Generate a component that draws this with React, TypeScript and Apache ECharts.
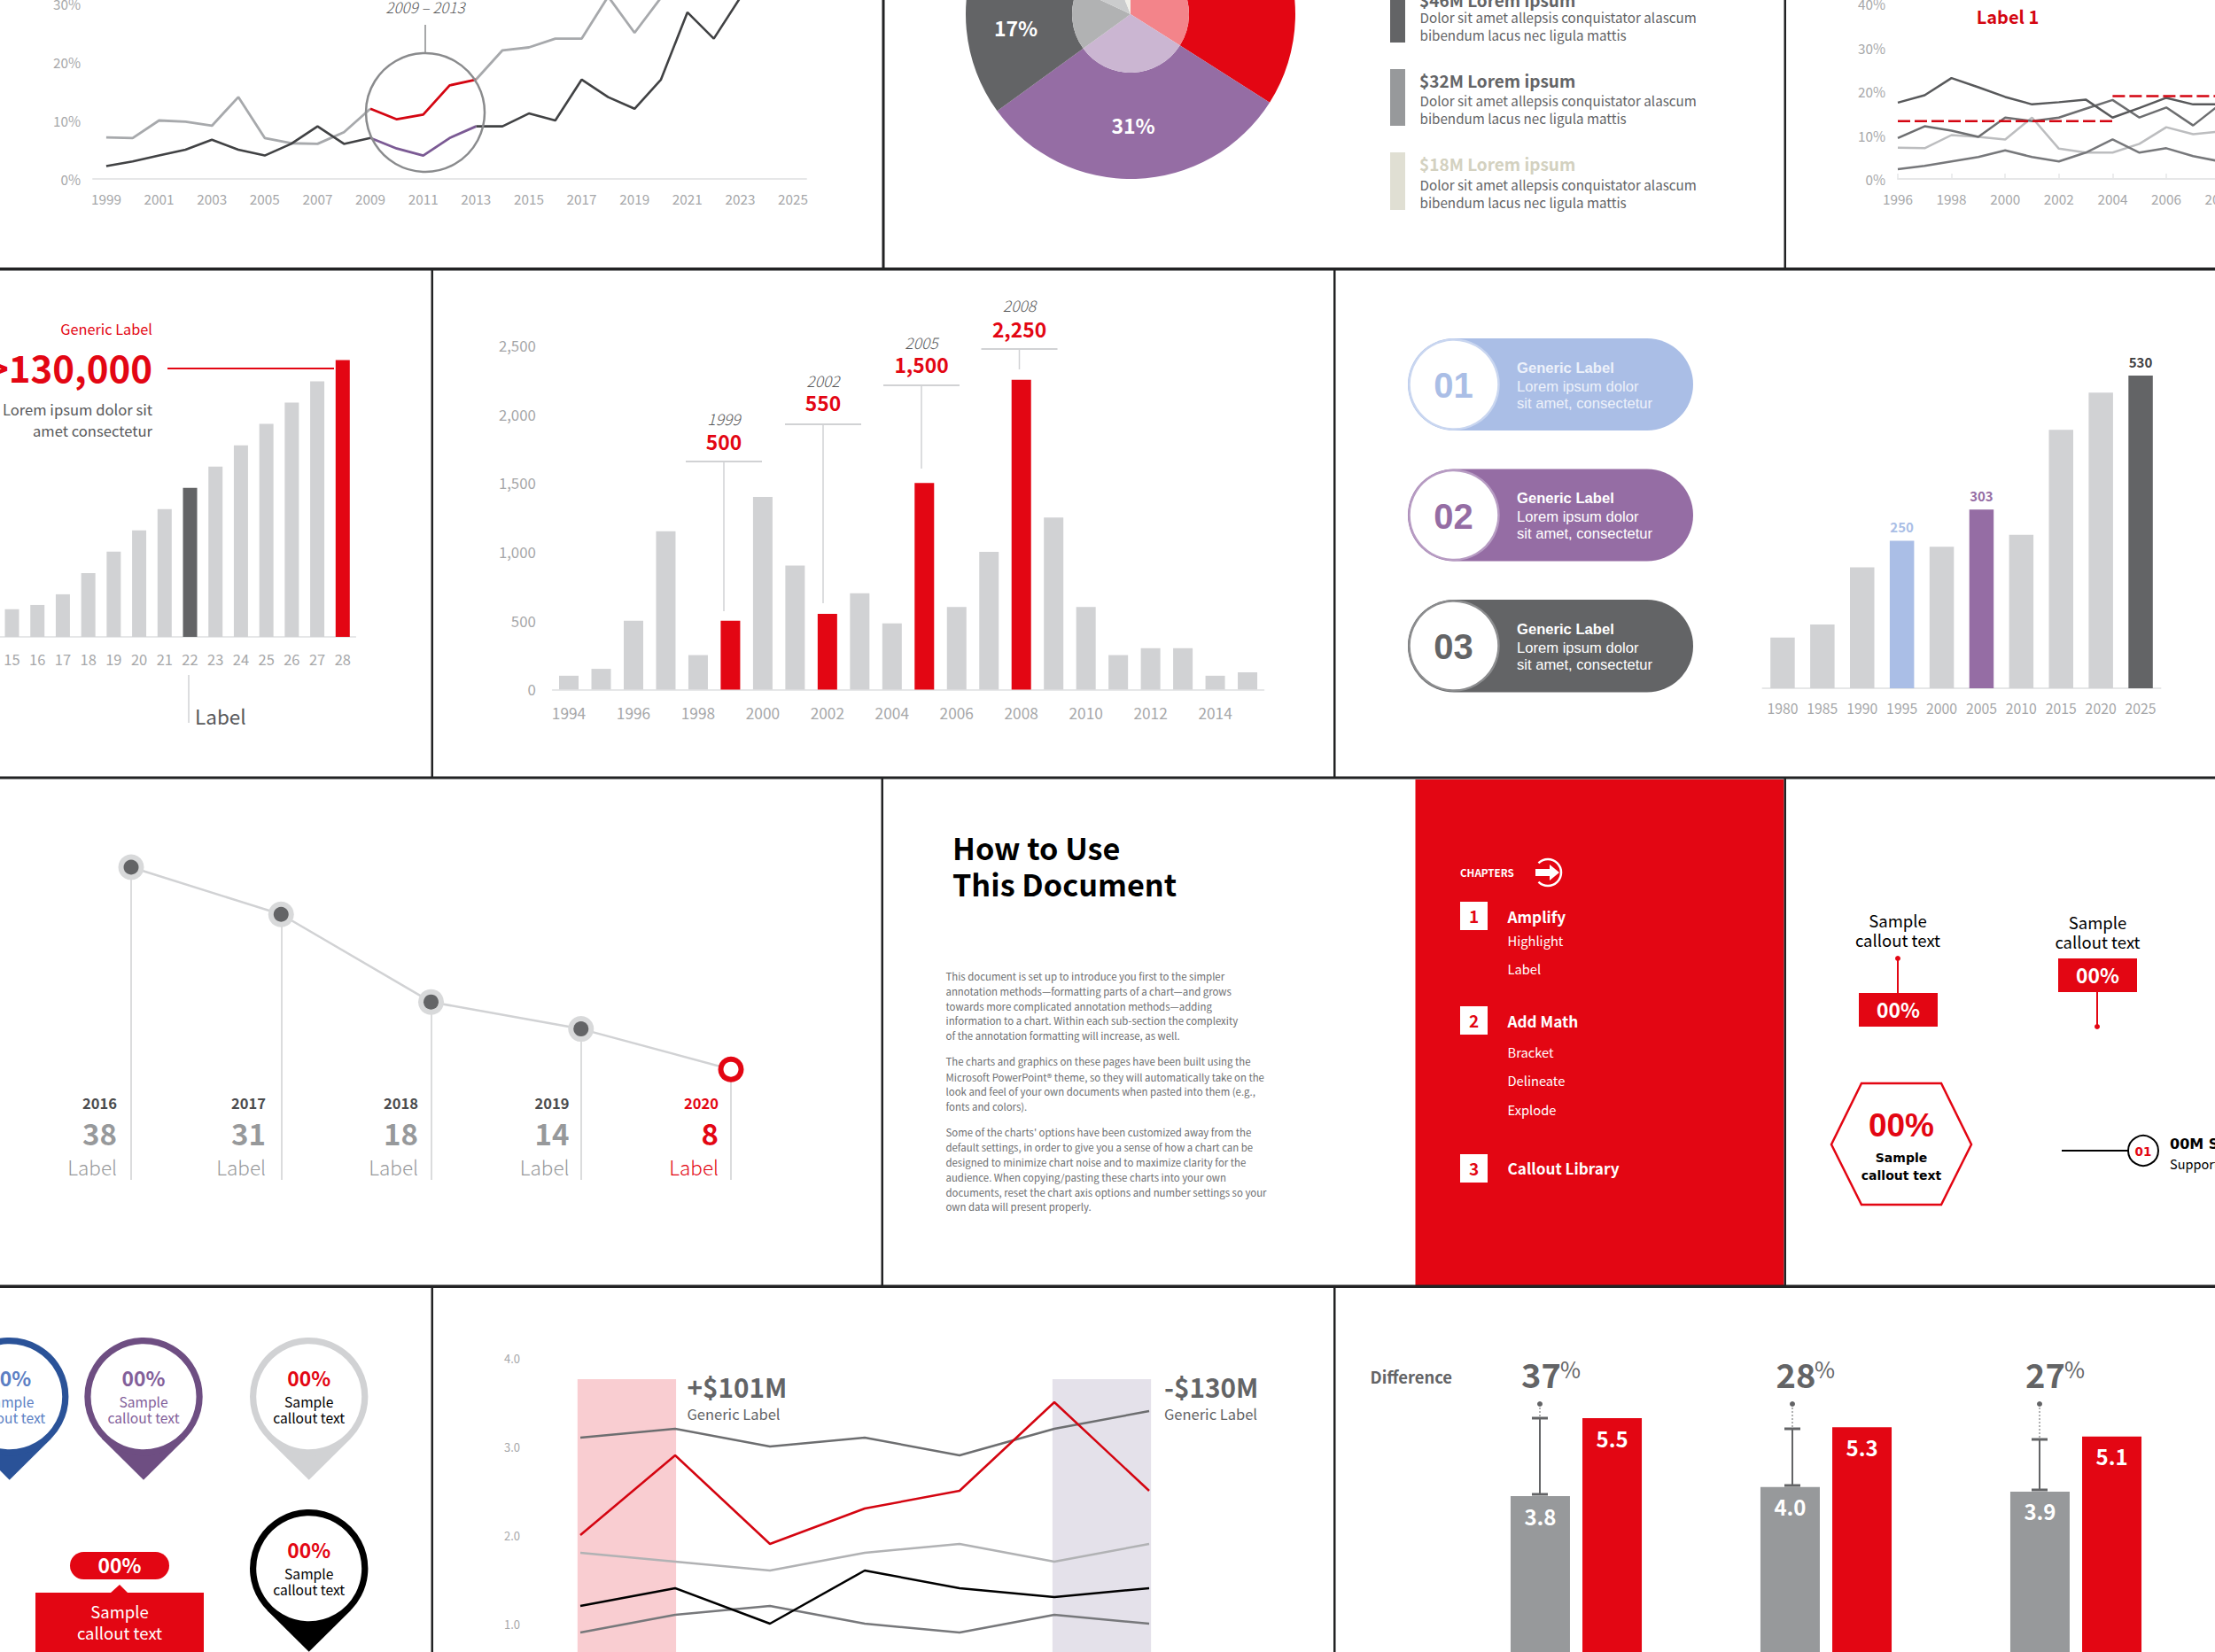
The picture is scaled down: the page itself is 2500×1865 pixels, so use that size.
import React, { useEffect, useRef } from "react";
import * as echarts from "echarts";

// ---------- palette / fonts
const RED = "#E30613";
const DARK = "#636466";
const MID = "#97999B";
const LIGHT = "#D1D2D4";
const PURPLE = "#956DA4";
const BLUE = "#AABEE6";
const BEIGE = "#E0DFD3";
const AXIS = "#E6E7E8";
const TICK = "#A6A7A9";
const SANS = "'Noto Sans CJK SC','Noto Sans',sans-serif";
const ARIAL = "'Liberation Sans',Arial,sans-serif";
const WIDE = "'DejaVu Sans',sans-serif";

// ---------- chart A (top-left lines)
const aYears = ["1999","2000","2001","2002","2003","2004","2005","2006","2007","2008","2009","2010","2011","2012","2013","2014","2015","2016","2017","2018","2019","2020","2021","2022","2023","2024","2025"];
const aGray = [7.1,7,10,9.8,9.1,14,7,6.1,6,8,12,null,null,null,17,22,22.5,24,24,31.2,25,31,35];
const aRed = [null,null,null,null,null,null,null,null,null,null,12,10.2,11,16,17];
const aDark = [2.2,3,4,5,6.7,5,4,6,9,6,7,null,null,null,9,9,11.2,10,17,14,12,17,28.5,24,31,36];
const aPurple = [null,null,null,null,null,null,null,null,null,null,7,5.2,4,7,9];

// ---------- pie
const pieNames = ["Red","Purple","Dark","Gray","Beige"];
const pieValues = [34,31,17,12,6];
const pieColors = [RED,PURPLE,DARK,MID,BEIGE];
const pieInner = ["#F3848A","#CBB6D2","#B1B2B3","#CBCCCD","#F0EFE9"];
const legendTitles = ["$46M Lorem ipsum","$32M Lorem ipsum","$18M Lorem ipsum"];
const legendBody1 = "Dolor sit amet allepsis conquistator alascum";
const legendBody2 = "bibendum lacus nec ligula mattis";

// ---------- chart C (top-right lines)
const cYears = ["1996","1997","1998","1999","2000","2001","2002","2003","2004","2005","2006","2007","2008"];
const cDark = [17.4,19.1,23,20.9,18.7,17,17.5,18.1,14,16.2,18.5,17,17];
const cMid = [9.3,12,11,9.6,14,13.2,14,16,18,14,16.3,12.2,17];
const cLight = [7.1,7,10,9.6,9,14,6.9,6,6,8,11.8,10.2,10.8];
const cLow = [2.2,3,4,5,6.5,5,4,6,9,6,7,5.2,4];
const cAvg1 = [13.2,13.2,13.2,13.2,13.2,13.2,13.2,13.2,13.2,null,null,null,null];
const cAvg2 = [null,null,null,null,null,null,null,null,18.9,18.9,18.9,18.9,18.9];

// ---------- chart D (rising bars)
const dCats = ["15","16","17","18","19","20","21","22","23","24","25","26","27","28"];
const dValues = [13000,15000,20000,30000,40000,50000,60000,70000,80000,90000,100000,110000,120000,130000];

// ---------- chart E (centre bars)
const eYears = ["1994","1995","1996","1997","1998","1999","2000","2001","2002","2003","2004","2005","2006","2007","2008","2009","2010","2011","2012","2013","2014","2015"];
const eValues = [100,150,500,1150,250,500,1400,900,550,700,480,1500,600,1000,2250,1250,600,250,300,300,100,125];
const eHighlights = ["1999","2002","2005","2008"];
const eNotes = [
  { year: "1999", value: "500" },
  { year: "2002", value: "550" },
  { year: "2005", value: "1,500" },
  { year: "2008", value: "2,250" },
];

// ---------- chart F (right bars)
const fYears = ["1980","1985","1990","1995","2000","2005","2010","2015","2020","2025"];
const fValues = [86,108,205,250,240,303,260,438,501,530];

// ---------- chart G (pins)
const gYears = ["2016","2017","2018","2019","2020"];
const gValues = [38,31,18,14,8];

// ---------- chart H (five lines)
const hGray = [3.1,3.2,3.0,3.1,2.9,3.2,3.4];
const hRed = [2.0,2.9,1.9,2.3,2.5,3.5,2.5];
const hLight = [1.8,1.7,1.6,1.8,1.9,1.7,1.9];
const hBlack = [1.2,1.4,1.0,1.6,1.4,1.3,1.4];
const hLow = [0.9,1.1,1.2,1.0,0.9,1.1,1.0];

// ---------- chart I (paired bars)
const iCats = ["A","B","C"];
const iGray = [3.8,4.0,3.9];
const iRed = [5.5,5.3,5.1];
const iDiff = ["37","28","27"];

// ---------- copy
const docPara = [
  ["This document is set up to introduce you first to the simpler","annotation methods—formatting parts of a chart—and grows","towards more complicated annotation methods—adding","information to a chart. Within each sub-section the complexity","of the annotation formatting will increase, as well."],
  ["The charts and graphics on these pages have been built using the","Microsoft PowerPoint® theme, so they will automatically take on the","look and feel of your own documents when pasted into them (e.g.,","fonts and colors)."],
  ["Some of the charts' options have been customized away from the","default settings, in order to give you a sense of how a chart can be","designed to minimize chart noise and to maximize clarity for the","audience. When copying/pasting these charts into your own","documents, reset the chart axis options and number settings so your","own data will present properly."],
];

// ---------- graphic helpers
type O = { align?: string; weight?: number | string; font?: string; italic?: boolean };
const T = (text: string, x: number, y: number, size: number, fill: string, o: O = {}) => ({
  type: "text", z: 100, silent: true,
  style: {
    text, x, y: o.font ? y : y - size * 0.05, fill, fontSize: size, fontFamily: o.font || SANS, fontWeight: o.weight || 400,
    fontStyle: o.italic ? "italic" : "normal",
    align: o.align || "left", verticalAlign: "middle",
    textAlign: o.align || "left", textVerticalAlign: "middle",
  },
});
const L = (x1: number, y1: number, x2: number, y2: number, stroke: string, lineWidth = 2, lineDash?: number[]) => ({
  type: "line", z: 100, silent: true, shape: { x1, y1, x2, y2 }, style: { stroke, lineWidth, lineDash },
});
const R = (x: number, y: number, width: number, height: number, fill: string, r = 0, z = 90) => ({
  type: "rect", z, silent: true, shape: { x, y, width, height, r }, style: { fill },
});
const C = (cx: number, cy: number, r: number, fill: string, stroke?: string, lineWidth = 0) => ({
  type: "circle", z: 100, silent: true, shape: { cx, cy, r }, style: { fill, stroke, lineWidth },
});
const P = (points: number[][], fill: string, stroke?: string, lineWidth = 0) => ({
  type: "polygon", z: 100, silent: true, shape: { points }, style: { fill, stroke, lineWidth },
});

function buildGraphics() {
  const g: any[] = [];
  const ink = "#222324";
  // dividers
  g.push(R(0, 302, 2500, 3.5, ink), R(0, 876.5, 2500, 3, ink), R(0, 1450.5, 2500, 3.5, ink));
  g.push(R(995.5, 0, 3, 303, ink), R(2013.5, 0, 2.5, 303, ink));
  g.push(R(486.5, 303, 2.5, 575, ink), R(1505, 303, 2.5, 575, ink));
  g.push(R(994.5, 878, 2.5, 574, ink), R(2013.5, 878, 2.5, 574, ink));
  g.push(R(486.5, 1452, 2.5, 413, ink), R(1505, 1452, 2.5, 413, ink));

  // chart A annotation
  g.push({ type: "circle", z: 100, silent: true, shape: { cx: 480, cy: 127, r: 67 }, style: { fill: "none", stroke: "#8A8B8D", lineWidth: 2.5 } });
  g.push(L(480, 28, 480, 60, "#8A8B8D", 1.5));
  g.push(T("2009 – 2013", 480, 8, 17, "#58595B", { align: "center", italic: true, weight: 300 }));

  // pie legend
  [[-16, 48, DARK, 0, 19.5, 39.5], [78, 142, MID, 91, 113.5, 133.5], [172, 237, BEIGE, 185, 208.5, 228.5]].forEach((r: any, i) => {
    g.push(R(1569, r[0], 17, r[1] - r[0], r[2]));
    g.push(T(legendTitles[i], 1602, r[3], 19, i === 2 ? "#D3D1C0" : DARK, { weight: 700 }));
    g.push(T(legendBody1, 1602.5, r[4], 15.2, DARK));
    g.push(T(legendBody2, 1602.5, r[5], 15.2, DARK));
  });

  // chart C
  g.push(T("Label 1", 2266, 19, 20, "#D40511", { align: "center", weight: 700 }));

  // chart D
  g.push(T("Generic Label", 172, 372, 16.3, RED, { align: "right" }));
  g.push(T(">130,000", 172, 416, 42, RED, { align: "right", weight: 700 }));
  g.push(L(189, 416, 377, 416, RED, 2));
  g.push(T("Lorem ipsum dolor sit", 172, 463, 16.6, "#58595B", { align: "right" }));
  g.push(T("amet consectetur", 172, 487, 16.6, "#58595B", { align: "right" }));
  g.push(L(213, 762, 213, 816, LIGHT, 1.5));
  g.push(T("Label", 220, 809, 22.5, "#58595B"));

  // chart E notes
  [[817, 473, 500, 521, 690], [929, 430, 456, 479, 681], [1040, 387, 413, 435, 529], [1150.5, 345, 373, 394, 417]].forEach((n, i) => {
    g.push(T(eNotes[i].year, n[0], n[1], 17.5, "#58595B", { align: "center", italic: true, weight: 300 }));
    g.push(T(eNotes[i].value, n[0], n[2], 22.8, RED, { align: "center", weight: 700 }));
    g.push(L(n[0] - 43, n[3], n[0] + 43, n[3], LIGHT, 2));
    g.push(L(n[0], n[3], n[0], n[4], LIGHT, 1.5));
  });

  // pills
  [[BLUE, "#C9D6F0", "#EDF1FA"], [PURPLE, "#B79CC3", "#FFFFFF"], [DARK, "#8C8D8F", "#FFFFFF"]].forEach((c, i) => {
    const top = 382 + i * 147.5;
    g.push(R(1589, top, 322, 104 + (i === 2 ? 0.5 : 0), c[0], 52));
    g.push(C(1641, top + 52, 50.5, "#FFFFFF", c[1], 2.5));
    g.push(T("0" + (i + 1), 1640.5, top + 53, 40, c[0], { align: "center", weight: 700, font: ARIAL }));
    g.push(T("Generic Label", 1712, top + 33, 16.6, c[2], { weight: 700, font: ARIAL }));
    g.push(T("Lorem ipsum dolor", 1712, top + 54, 16.6, c[2], { font: ARIAL }));
    g.push(T("sit amet, consectetur", 1712, top + 73, 16.6, c[2], { font: ARIAL }));
  });

  // chart G captions
  [132, 300, 472, 642.5, 811].forEach((x, i) => {
    const last = i === gYears.length - 1;
    g.push(T(gYears[i], x, 1246, 16.5, last ? RED : "#4A4B4D", { align: "right", weight: 700 }));
    g.push(T(String(gValues[i]), x, 1281, 33, last ? RED : MID, { align: "right", weight: 700 }));
    g.push(T("Label", x, 1318, 22.5, last ? RED : MID, { align: "right", weight: 300 }));
  });

  // How to use
  g.push(T("How to Use", 1075, 958, 34.2, "#000000", { weight: 700 }));
  g.push(T("This Document", 1075, 999, 34.2, "#000000", { weight: 700 }));
  const ys = [[1102.5, 1120, 1137, 1153, 1169.5], [1199, 1216.5, 1233, 1250], [1278.5, 1295.5, 1312.5, 1329.5, 1346.5, 1363]];
  docPara.forEach((p, a) => p.forEach((t, b) => g.push(T(t, 1067.5, ys[a][b], 11.4, "#6D6E70"))));

  // red panel
  g.push(R(1597.5, 880, 416, 573, RED, 0, 80));
  g.push(T("CHAPTERS", 1648, 986, 11.6, "#FFFFFF", { weight: 700 }));
  g.push({ type: "arc", z: 100, silent: true, shape: { cx: 1747, cy: 985, r: 15, startAngle: -2.35, endAngle: 2.35, clockwise: true }, style: { fill: "none", stroke: "#FFFFFF", lineWidth: 2.5 } });
  g.push(P([[1733, 981], [1749, 981], [1749, 976], [1760, 985], [1749, 994], [1749, 989], [1733, 989]], "#FFFFFF"));
  [[1018, "1"], [1136, "2"], [1303, "3"]].forEach((b: any) => {
    g.push(R(1648, b[0], 31, 32, "#FFFFFF", 0, 95));
    g.push(T(b[1], 1663.5, b[0] + 16, 19, RED, { align: "center", weight: 700 }));
  });
  g.push(T("Amplify", 1701.5, 1035, 17.2, "#FFFFFF", { weight: 700 }));
  g.push(T("Highlight", 1701.5, 1062, 14.7, "#FFFFFF"));
  g.push(T("Label", 1701.5, 1094.5, 14.7, "#FFFFFF"));
  g.push(T("Add Math", 1701.5, 1153, 17.2, "#FFFFFF", { weight: 700 }));
  g.push(T("Bracket", 1701.5, 1188, 14.7, "#FFFFFF"));
  g.push(T("Delineate", 1701.5, 1220, 14.7, "#FFFFFF"));
  g.push(T("Explode", 1701.5, 1253.5, 14.7, "#FFFFFF"));
  g.push(T("Callout Library", 1701.5, 1319, 17.2, "#FFFFFF", { weight: 700 }));

  // callouts
  g.push(T("Sample", 2142, 1040, 18.5, "#000", { align: "center" }));
  g.push(T("callout text", 2142, 1062, 18.5, "#000", { align: "center" }));
  g.push(C(2142, 1082, 3, RED), L(2142, 1082, 2142, 1121, RED, 2));
  g.push(R(2098, 1121, 89, 38, RED, 0, 95));
  g.push(T("00%", 2142.5, 1141, 22.8, "#FFF", { align: "center", weight: 700 }));
  g.push(T("Sample", 2367.5, 1042, 18.5, "#000", { align: "center" }));
  g.push(T("callout text", 2367.5, 1064, 18.5, "#000", { align: "center" }));
  g.push(R(2323, 1082, 89, 38, RED, 0, 95));
  g.push(T("00%", 2367.5, 1102, 22.8, "#FFF", { align: "center", weight: 700 }));
  g.push(L(2367, 1120, 2367, 1159, RED, 2), C(2367, 1159, 3, RED));
  g.push(P([[2067, 1292], [2101, 1223], [2191, 1223], [2225, 1292], [2191, 1360], [2101, 1360]], "#FFF", RED, 2.5));
  g.push(T("00%", 2146, 1270, 37, RED, { align: "center", weight: 700, font: ARIAL }));
  g.push(T("Sample", 2146, 1307, 14, "#000", { align: "center", weight: 700, font: WIDE }));
  g.push(T("callout text", 2146, 1326.5, 14, "#000", { align: "center", weight: 700, font: WIDE }));
  g.push(L(2327, 1299, 2402, 1299, "#000", 2), C(2419, 1299, 17, "#FFF", "#000", 2));
  g.push(T("01", 2419, 1299.5, 13.5, RED, { align: "center", weight: 700, font: WIDE }));
  g.push(T("00M Sample", 2449, 1291, 16, "#000", { weight: 700, font: WIDE }));
  g.push(T("Supporting text", 2449, 1314, 14.5, "#000"));

  // pins
  const pin = (cx: number, cy: number, col: string, tPct: string, tTxt: string) => {
    g.push(P([[cx - 47.2, cy + 47.2], [cx, cy + 94], [cx + 47.2, cy + 47.2]], col));
    g.push(C(cx, cy, 59.5 + 3.6, "#FFF", col, 7.2));
    g.push(T("00%", cx, cy - 20, 22.8, tPct, { align: "center", weight: 700 }));
    g.push(T("Sample", cx, cy + 6, 15.6, tTxt, { align: "center" }));
    g.push(T("callout text", cx, cy + 24, 15.6, tTxt, { align: "center" }));
  };
  pin(10.7, 1576.7, "#2A5298", "#5C7FC4", "#5C7FC4");
  pin(162, 1576.7, "#6E4E82", "#83609A", "#83609A");
  pin(348.7, 1576.7, LIGHT, RED, "#000");
  pin(348.7, 1770.7, "#000", RED, "#000");
  g.push(R(79, 1752, 112, 31, RED, 15.5, 95));
  g.push(T("00%", 135, 1768, 22.8, "#FFF", { align: "center", weight: 700 }));
  g.push(R(40, 1798, 190, 67, RED, 0, 95));
  g.push(P([[125, 1798], [135, 1789], [144, 1798]], RED));
  g.push(T("Sample", 135, 1820, 18.5, "#FFF", { align: "center" }));
  g.push(T("callout text", 135, 1844, 18.5, "#FFF", { align: "center" }));

  // chart H text
  g.push(T("+$101M", 775.5, 1567, 29.7, DARK, { weight: 700 }));
  g.push(T("Generic Label", 775.5, 1597, 16.5, DARK));
  g.push(T("-$130M", 1314, 1567, 29.7, DARK, { weight: 700 }));
  g.push(T("Generic Label", 1314, 1597, 16.5, DARK));

  // chart I annotations
  g.push(T("Difference", 1546.5, 1555, 18.4, DARK, { weight: 700 }));
  [[1738, 1601, 1687, 1717, 1761], [2023, 1613, 1677, 2004.5, 2048], [2302, 1625, 1682, 2286, 2330]].forEach((b, i) => {
    g.push(T(iDiff[i], b[3], 1552, 38, DARK, { weight: 700 }));
    g.push(T("%", b[4], 1546, 25, DARK));
    g.push(C(b[0], 1585, 3, DARK));
    g.push(L(b[0], 1585, b[0], b[1], DARK, 1, [2, 2]));
    g.push(L(b[0], b[1], b[0], b[2], DARK, 2));
    g.push(L(b[0] - 9, b[1], b[0] + 9, b[1], DARK, 3));
    g.push(L(b[0] - 9, b[2], b[0] + 9, b[2], DARK, 3));
  });
  return g;
}

// ---------- axis helpers
const xCat = (gridIndex: number, data: string[], size: number, margin: number, extra: any = {}) => ({
  type: "category", gridIndex, data,
  axisLine: { show: true, lineStyle: { color: AXIS, width: 2 } },
  axisTick: { show: false },
  axisLabel: { color: TICK, fontSize: size, fontFamily: SANS, margin, interval: 0, hideOverlap: false },
  ...extra,
});
const yVal = (gridIndex: number, min: number, max: number, interval: number, size: number, margin: number, formatter: any, show = true) => ({
  type: "value", gridIndex, min, max, interval, show,
  splitLine: { show: false }, axisLine: { show: false }, axisTick: { show: false },
  axisLabel: { color: TICK, fontSize: size, fontFamily: SANS, margin, formatter },
});
const ln = (i: number, data: any[], color: string, width = 3, extra: any = {}) => ({
  type: "line", xAxisIndex: i, yAxisIndex: i, data, symbol: "none", connectNulls: false,
  lineStyle: { color, width }, itemStyle: { color }, ...extra,
});
const grid = (left: number, top: number, width: number, height: number) => ({
  left, top, width, height, outerBoundsMode: "none", containLabel: false,
});
const indexed = (values: number[]) => values.map((v, i) => [i, v]);

function buildOption(): any {
  const dData = dValues.map((v, i) => ({
    value: v,
    itemStyle: { color: dCats[i] === "22" ? DARK : dCats[i] === "28" ? RED : LIGHT },
  }));
  const eData = eValues.map((v, i) => ({ value: v, itemStyle: { color: eHighlights.includes(eYears[i]) ? RED : LIGHT } }));
  const fStyle: Record<string, string> = { "1995": BLUE, "2005": PURPLE, "2025": DARK };
  const fLabel: Record<string, string> = { "1995": BLUE, "2005": PURPLE, "2025": "#3F4042" };
  const fData = fValues.map((v, i) => ({
    value: v,
    itemStyle: { color: fStyle[fYears[i]] || LIGHT },
    label: fStyle[fYears[i]]
      ? { show: true, position: "top", distance: 8, color: fLabel[fYears[i]], fontSize: 15, fontWeight: 700, fontFamily: SANS }
      : { show: false },
  }));
  const gBase = -8.4;
  const gOuter = gValues.map((v, i) => ({ value: v, itemStyle: { color: i === gValues.length - 1 ? RED : "#D8D9DA" } }));
  const gInner = gValues.map((v, i) => ({ value: v, itemStyle: { color: i === gValues.length - 1 ? "#FFFFFF" : DARK } }));
  const pieLabels: Record<string, number[]> = { Purple: [-1, -4], Dark: [-1, 3] };

  return {
    animation: false,
    backgroundColor: "#FFFFFF",
    textStyle: { fontFamily: SANS },
    grid: [
      grid(105, -62, 805, 264),
      grid(2142, 4, 363.6, 198),
      grid(-0.85, 406.5, 402, 312.5),
      grid(623.8, 390, 802.5, 388.4),
      grid(1989.5, 424, 449, 353),
      grid(148, 979, 677, 353),
      grid(651.8, 1533, 647.35, 400),
      grid(1638, 1601, 846, 285),
    ],
    xAxis: [
      xCat(0, aYears, 15.3, 14, { axisLabel: { color: TICK, fontSize: 15.3, fontFamily: SANS, margin: 14, interval: 1 } }),
      xCat(1, cYears, 15.3, 14, {
        boundaryGap: false,
        axisTick: { show: true, inside: true, length: 6, interval: 1, lineStyle: { color: AXIS, width: 1.5 } },
        axisLabel: { color: TICK, fontSize: 15.3, fontFamily: SANS, margin: 14, interval: 1, showMaxLabel: true },
      }),
      xCat(2, dCats, 16.5, 17),
      xCat(3, eYears, 17.3, 17, { axisLabel: { color: TICK, fontSize: 17.3, fontFamily: SANS, margin: 17, interval: 1 } }),
      xCat(4, fYears, 15.8, 15),
      xCat(5, gYears, 12, 8, { boundaryGap: false, show: false }),
      { type: "value", gridIndex: 6, min: -0.03, max: 6.02, show: false, splitLine: { show: false } },
      xCat(7, iCats, 12, 8, { show: false }),
    ],
    yAxis: [
      yVal(0, 0, 40, 10, 15.3, 14, "{value}%"),
      yVal(1, 0, 40, 10, 15.3, 14, "{value}%"),
      yVal(2, 0, 130000, 130000, 12, 8, "{value}", false),
      yVal(3, 0, 2500, 500, 16.8, 19, (v: number) => v.toLocaleString("en-US")),
      yVal(4, 0, 530, 530, 12, 8, "{value}", false),
      yVal(5, gBase, 38, 46.4, 12, 8, "{value}", false),
      yVal(6, 0, 4, 1, 13, 64.8, (v: number) => (v === 0 ? "" : v.toFixed(1))),
      yVal(7, 0, 5.5, 5.5, 12, 8, "{value}", false),
    ],
    series: [
      // chart A
      ln(0, aGray, "#A7A9AC", 2.8),
      ln(0, aDark, "#414244", 2.6),
      ln(0, aRed, "#D40511", 2.8),
      ln(0, aPurple, "#7B5A94", 2.8),
      // pie
      {
        type: "pie", center: [1276, 16], radius: [66, 186], startAngle: 90, clockwise: true, silent: true,
        data: pieValues.map((v, i) => ({
          name: pieNames[i], value: v, itemStyle: { color: pieColors[i] },
          label: pieLabels[pieNames[i]] ? { show: true, offset: pieLabels[pieNames[i]] } : { show: false },
        })),
        label: { position: "inside", formatter: "{d}%", color: "#FFF", fontSize: 23, fontWeight: 700, fontFamily: SANS },
        labelLine: { show: false },
      },
      {
        type: "pie", center: [1276, 16], radius: [0, 66], startAngle: 90, clockwise: true, silent: true,
        data: pieValues.map((v, i) => ({ name: pieNames[i], value: v, itemStyle: { color: pieInner[i] } })),
        label: { show: false }, labelLine: { show: false },
      },
      // chart C
      ln(1, cLight, "#BCBDBF", 2.5),
      ln(1, cLow, "#77787B", 2.5),
      ln(1, cMid, "#6D6E70", 2.5),
      ln(1, cDark, "#58595B", 2.5),
      ln(1, cAvg1, "#D40511", 2.5, { lineStyle: { color: "#D40511", width: 2.5, type: [14, 5] } }),
      ln(1, cAvg2, "#D40511", 2.5, { lineStyle: { color: "#D40511", width: 2.5, type: [14, 5] } }),
      // chart D, E, F
      { type: "bar", xAxisIndex: 2, yAxisIndex: 2, data: dData, barWidth: 16 },
      { type: "bar", xAxisIndex: 3, yAxisIndex: 3, data: eData, barWidth: 22 },
      { type: "bar", xAxisIndex: 4, yAxisIndex: 4, data: fData, barWidth: 27.5 },
      // chart G: drop lines sit under the markers
      {
        type: "line", xAxisIndex: 5, yAxisIndex: 5, data: gValues, symbol: "none", z: 1,
        lineStyle: { width: 0, opacity: 0 },
        markLine: {
          silent: true, symbol: "none", label: { show: false }, animation: false, z: 1,
          lineStyle: { color: "#CFD0D2", width: 1.5, type: "solid" },
          data: gValues.map((v, i) => [{ xAxis: gYears[i], yAxis: v }, { xAxis: gYears[i], yAxis: gBase }]),
        },
      },
      {
        type: "line", xAxisIndex: 5, yAxisIndex: 5, data: gOuter, symbol: "circle", symbolSize: 29, showAllSymbol: true, z: 3,
        lineStyle: { color: LIGHT, width: 2.5 },
      },
      {
        type: "line", xAxisIndex: 5, yAxisIndex: 5, data: gInner, symbol: "circle", symbolSize: 17, showAllSymbol: true, z: 4,
        lineStyle: { width: 0, opacity: 0 },
      },
      // chart H
      ln(6, indexed(hLow), "#77787B", 2.5, {
        markArea: {
          silent: true, label: { show: false },
          data: [
            [{ xAxis: -0.03, yAxis: 3.76, itemStyle: { color: "#F9CDD1" } }, { xAxis: 1.01, yAxis: 0 }],
            [{ xAxis: 4.98, yAxis: 3.76, itemStyle: { color: "#E4E1EA" } }, { xAxis: 6.02, yAxis: 0 }],
          ],
        },
      }),
      ln(6, indexed(hGray), "#6D6E70", 2.5),
      ln(6, indexed(hLight), "#B1B2B4", 2.5),
      ln(6, indexed(hBlack), "#000000", 2.5),
      ln(6, indexed(hRed), "#D40511", 2.5),
      // chart I
      {
        type: "bar", xAxisIndex: 7, yAxisIndex: 7, data: iGray, barWidth: 67, barGap: "21%",
        itemStyle: { color: MID },
        label: { show: true, position: "insideTop", distance: 10, color: "#FFF", fontSize: 24, fontWeight: 700, fontFamily: SANS, formatter: (p: any) => p.value.toFixed(1) },
      },
      {
        type: "bar", xAxisIndex: 7, yAxisIndex: 7, data: iRed, barWidth: 67,
        itemStyle: { color: RED },
        label: { show: true, position: "insideTop", distance: 10, color: "#FFF", fontSize: 24, fontWeight: 700, fontFamily: SANS, formatter: (p: any) => p.value.toFixed(1) },
      },
    ],
    graphic: { elements: buildGraphics() },
  };
}

export default function App() {
  const ref = useRef<HTMLDivElement>(null);
  useEffect(() => {
    document.body.style.margin = "0";
    const chart = echarts.init(ref.current!, undefined, { renderer: "svg" });
    chart.setOption(buildOption());
    return () => chart.dispose();
  }, []);
  return <div ref={ref} style={{ position: "absolute", left: 0, top: 0, width: 2500, height: 1865, overflow: "hidden" }} />;
}
